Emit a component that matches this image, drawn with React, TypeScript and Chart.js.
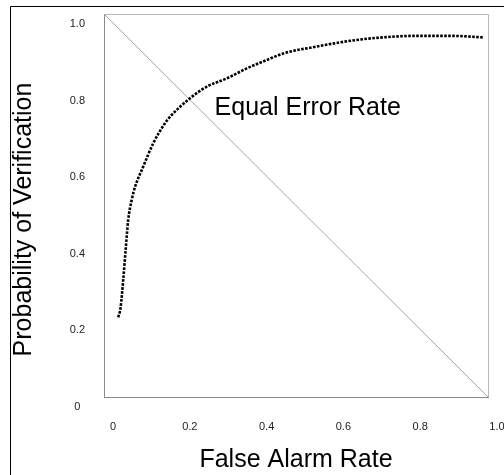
import { useEffect, useRef } from 'react';
import { Chart, registerables } from 'chart.js';

Chart.register(...registerables);

// ROC-style curve: false alarm rate (x) vs probability of verification (y)
const FALSE_ALARM_RATE = [
  0.037, 0.043, 0.05, 0.057, 0.063, 0.072, 0.081, 0.102, 0.128, 0.159, 0.176,
  0.224, 0.267, 0.32, 0.372, 0.424, 0.467, 0.554, 0.641, 0.727, 0.814, 0.901, 0.988,
];
const PROB_VERIFICATION = [
  0.208, 0.232, 0.305, 0.392, 0.462, 0.514, 0.549, 0.601, 0.662, 0.715, 0.736,
  0.78, 0.81, 0.832, 0.858, 0.88, 0.897, 0.915, 0.93, 0.939, 0.943, 0.943, 0.939,
];

// Equal-error diagonal
const DIAGONAL_X = [0, 1];
const DIAGONAL_Y = [1, 0];

const X_TICK_LABELS = ['0', '0.2', '0.4', '0.6', '0.8', '1.0'];
const Y_TICK_LABELS = ['0', '0.2', '0.4', '0.6', '0.8', '1.0'];

const X_TITLE = 'False Alarm Rate';
const Y_TITLE = 'Probability of Verification';
const EER_TEXT = 'Equal Error Rate';
const EER_AT = [0.288, 0.736];

const FONT = '"Liberation Sans", Arial, Helvetica, sans-serif';

const decorPlugin = {
  id: 'decor',
  beforeDraw(chart: any) {
    const { ctx, width, height } = chart;
    ctx.save();
    ctx.fillStyle = '#ffffff';
    ctx.fillRect(0, 0, width, height);
    ctx.strokeStyle = '#000000';
    ctx.lineWidth = 1;
    ctx.beginPath();
    ctx.moveTo(10.5, height);
    ctx.lineTo(10.5, 6.5);
    ctx.lineTo(width, 6.5);
    ctx.stroke();
    ctx.restore();
  },
  afterDraw(chart: any) {
    const { ctx, chartArea: a, scales } = chart;
    ctx.save();
    // top and right frame edges
    ctx.strokeStyle = '#b8b8b8';
    ctx.lineWidth = 1;
    ctx.beginPath();
    ctx.moveTo(a.left, a.top + 0.5);
    ctx.lineTo(a.right + 0.5, a.top + 0.5);
    ctx.lineTo(a.right + 0.5, a.bottom);
    ctx.stroke();

    // annotation
    ctx.fillStyle = '#000000';
    ctx.font = `25px ${FONT}`;
    ctx.textAlign = 'left';
    ctx.textBaseline = 'alphabetic';
    ctx.fillText(
      EER_TEXT,
      scales.x.getPixelForValue(EER_AT[0]),
      scales.y.getPixelForValue(EER_AT[1])
    );

    // y axis title
    ctx.translate(24.5, 219.5);
    ctx.rotate(-Math.PI / 2);
    ctx.textAlign = 'center';
    ctx.textBaseline = 'middle';
    ctx.fillText(Y_TITLE, 0, 0);
    ctx.restore();
  },
};

export default function App() {
  const ref = useRef<HTMLCanvasElement | null>(null);

  useEffect(() => {
    document.body.style.margin = '0';
    const canvas = ref.current;
    if (!canvas) return;

    const curve = FALSE_ALARM_RATE.map((x, i) => ({ x, y: PROB_VERIFICATION[i] }));
    const diag = DIAGONAL_X.map((x, i) => ({ x, y: DIAGONAL_Y[i] }));

    const chart = new Chart(canvas, {
      type: 'line',
      data: {
        datasets: [
          {
            label: 'ROC',
            data: curve,
            borderColor: '#000000',
            borderWidth: 2.6,
            borderDash: [2.6, 1.4],
            borderCapStyle: 'butt',
            pointRadius: 0,
            fill: false,
            cubicInterpolationMode: 'monotone',
          },
          {
            label: 'Diagonal',
            data: diag,
            borderColor: '#a6a6a6',
            borderWidth: 1,
            pointRadius: 0,
            fill: false,
          },
        ],
      },
      options: {
        responsive: false,
        animation: false,
        events: [],
        layout: { padding: { top: 14, right: 16, left: 0, bottom: 0 } },
        plugins: {
          legend: { display: false },
          tooltip: { enabled: false },
          title: { display: false },
        },
        scales: {
          x: {
            type: 'linear',
            min: 0,
            max: 1,
            grid: { display: false, drawTicks: true, tickLength: 23 },
            border: { display: true, color: '#8a8a8a', width: 1 },
            ticks: {
              stepSize: 0.2,
              autoSkip: false,
              maxRotation: 0,
              padding: 0,
              labelOffset: 9,
              color: '#222222',
              font: { family: FONT, size: 11 },
              callback: (_v: any, i: number) => X_TICK_LABELS[i],
            },
            title: {
              display: true,
              text: X_TITLE,
              color: '#000000',
              font: { family: FONT, size: 25, lineHeight: 1 },
              padding: { top: 0, bottom: 2 },
            },
            afterFit: (s: any) => {
              s.height = 78;
            },
          },
          y: {
            type: 'linear',
            min: 0,
            max: 1,
            grid: { display: false, drawTicks: true, tickLength: 19 },
            border: { display: true, color: '#8a8a8a', width: 1 },
            ticks: {
              stepSize: 0.2,
              autoSkip: false,
              padding: 0,
              crossAlign: 'center',
              labelOffset: 10,
              color: '#222222',
              font: { family: FONT, size: 11 },
              callback: (_v: any, i: number) => Y_TICK_LABELS[i],
            },
            afterFit: (s: any) => {
              s.width = 104;
            },
          },
        },
      },
      plugins: [decorPlugin],
    } as any);

    return () => chart.destroy();
  }, []);

  return <canvas ref={ref} width={504} height={475} style={{ display: 'block' }} />;
}
